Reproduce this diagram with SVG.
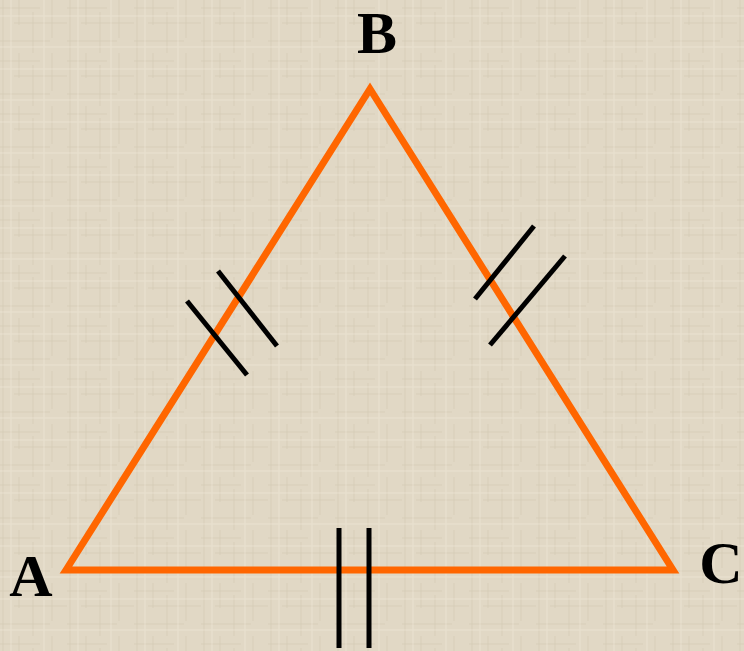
<svg xmlns="http://www.w3.org/2000/svg" width="744" height="651" viewBox="0 0 744 651">
<style>
.side{fill:none;stroke:#FF6600;stroke-width:7;stroke-linejoin:miter}
.tick{stroke:#000;stroke-width:5;stroke-linecap:butt}
.lbl{font-family:"Liberation Serif","Times New Roman",serif;font-weight:bold;font-size:60px;fill:#000}
</style>
<defs>
<pattern id="tex" width="67" height="53" patternUnits="userSpaceOnUse">
<rect width="67" height="53" fill="#E1D8C5"/>
<g stroke="#CDC2AB" stroke-width="1" opacity="0.5">
<line x1="3" y1="0" x2="3" y2="53"/>
<line x1="19" y1="0" x2="19" y2="25"/>
<line x1="33" y1="12" x2="33" y2="53"/>
<line x1="52" y1="0" x2="52" y2="38"/>
<line x1="0" y1="8" x2="40" y2="8"/>
<line x1="14" y1="23" x2="67" y2="23"/>
<line x1="0" y1="41" x2="50" y2="41"/>
</g>
<g stroke="#EEE7D8" stroke-width="1" opacity="0.6">
<line x1="11" y1="0" x2="11" y2="53"/>
<line x1="44" y1="0" x2="44" y2="53"/>
<line x1="0" y1="16" x2="67" y2="16"/>
<line x1="0" y1="47" x2="67" y2="47"/>
</g>
</pattern>
</defs>
<rect width="744" height="651" fill="url(#tex)"/>
<g id="triangle">
<polygon class="side" points="66,570 370,89 673,570"/>
</g>
<g id="connectors">
<line class="tick" x1="187" y1="301" x2="247" y2="375"/>
<line class="tick" x1="218" y1="271" x2="277" y2="346"/>
<line class="tick" x1="475" y1="299" x2="534" y2="226"/>
<line class="tick" x1="490" y1="345" x2="565" y2="256"/>
<line class="tick" x1="339" y1="528" x2="339" y2="648"/>
<line class="tick" x1="369" y1="528" x2="369" y2="648"/>
</g>
<g id="label-A"><text class="lbl" x="31" y="596" text-anchor="middle">A</text></g>
<g id="label-B"><text class="lbl" x="377" y="53" text-anchor="middle">B</text></g>
<g id="label-C"><text class="lbl" x="721" y="583" text-anchor="middle">C</text></g>
</svg>
